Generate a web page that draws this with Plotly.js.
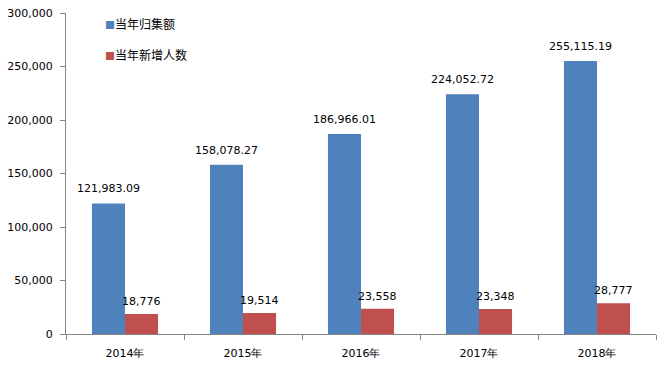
<!DOCTYPE html>
<html>
<head>
<meta charset="utf-8">
<script src="https://cdn.plot.ly/plotly-3.0.1.min.js"></script>
<style>html,body{margin:0;padding:0;background:#fff;}#chart{width:664px;height:370px;}</style>
</head>
<body>
<div id="chart"></div>
<script>
const categories = ['2014年', '2015年', '2016年', '2017年', '2018年'];
const fundAmount = [121983.09, 158078.27, 186966.01, 224052.72, 255115.19];
const newMembers = [18776, 19514, 23558, 23348, 28777];
const seriesNames = ['当年归集额', '当年新增人数'];
const seriesColors = ['#4F81BD', '#C0504D'];
const yTicks = [0, 50000, 100000, 150000, 200000, 250000, 300000];

const fmt2 = v => v.toLocaleString('en-US', {minimumFractionDigits: 2, maximumFractionDigits: 2});
const fmt0 = v => v.toLocaleString('en-US');

const font = {family: 'DejaVu Sans, Verdana, sans-serif', size: 11, color: '#000'};
const legendFont = {family: 'Noto Sans CJK SC, DejaVu Sans, sans-serif', size: 12, color: '#000'};

const traces = [
  {
    type: 'bar', x: categories, y: fundAmount, name: seriesNames[0],
    marker: {color: seriesColors[0]}, hoverinfo: 'none', showlegend: false
  },
  {
    type: 'bar', x: categories, y: newMembers, name: seriesNames[1],
    marker: {color: seriesColors[1]}, hoverinfo: 'none', showlegend: false
  }
];

const annotations = [];
categories.forEach((c, i) => {
  annotations.push({x: c, y: fundAmount[i], xref: 'x', yref: 'y', text: fmt2(fundAmount[i]),
    showarrow: false, yanchor: 'bottom', xanchor: 'center', xshift: -16.5, yshift: 6, font: font});
  annotations.push({x: c, y: newMembers[i], xref: 'x', yref: 'y', text: fmt0(newMembers[i]),
    showarrow: false, yanchor: 'bottom', xanchor: 'center', xshift: 16.5, yshift: 4, font: font});
});
// legend drawn as text
seriesNames.forEach((n, i) => {
  annotations.push({xref: 'paper', yref: 'paper', x: 0.062, y: i === 0 ? 0.967 : 0.872,
    xanchor: 'left', yanchor: 'middle', showarrow: false, font: legendFont,
    text: '<span style="color:' + seriesColors[i] + ';font-size:10px">■</span>' + n});
});

const layout = {
  width: 664, height: 370,
  margin: {l: 66, r: 8, t: 13, b: 36},
  paper_bgcolor: '#fff', plot_bgcolor: '#fff',
  barmode: 'group', bargap: 0.44, bargroupgap: 0,
  font: font,
  showlegend: false,
  annotations: annotations,
  xaxis: {
    type: 'category', showline: true, linecolor: '#868686', linewidth: 1,
    ticks: 'outside', tickson: 'boundaries', ticklen: 5, tickcolor: '#868686',
    showgrid: false, tickfont: font, zeroline: false, ticklabelstandoff: 9
  },
  yaxis: {
    range: [0, 300000], tickvals: yTicks, ticktext: yTicks.map(fmt0),
    showline: true, linecolor: '#868686', linewidth: 1,
    ticks: 'outside', ticklen: 5, tickcolor: '#868686',
    showgrid: false, zeroline: false, tickfont: font, ticklabelstandoff: 5
  }
};

Plotly.newPlot('chart', traces, layout, {displayModeBar: false, staticPlot: true});
</script>
</body>
</html>
